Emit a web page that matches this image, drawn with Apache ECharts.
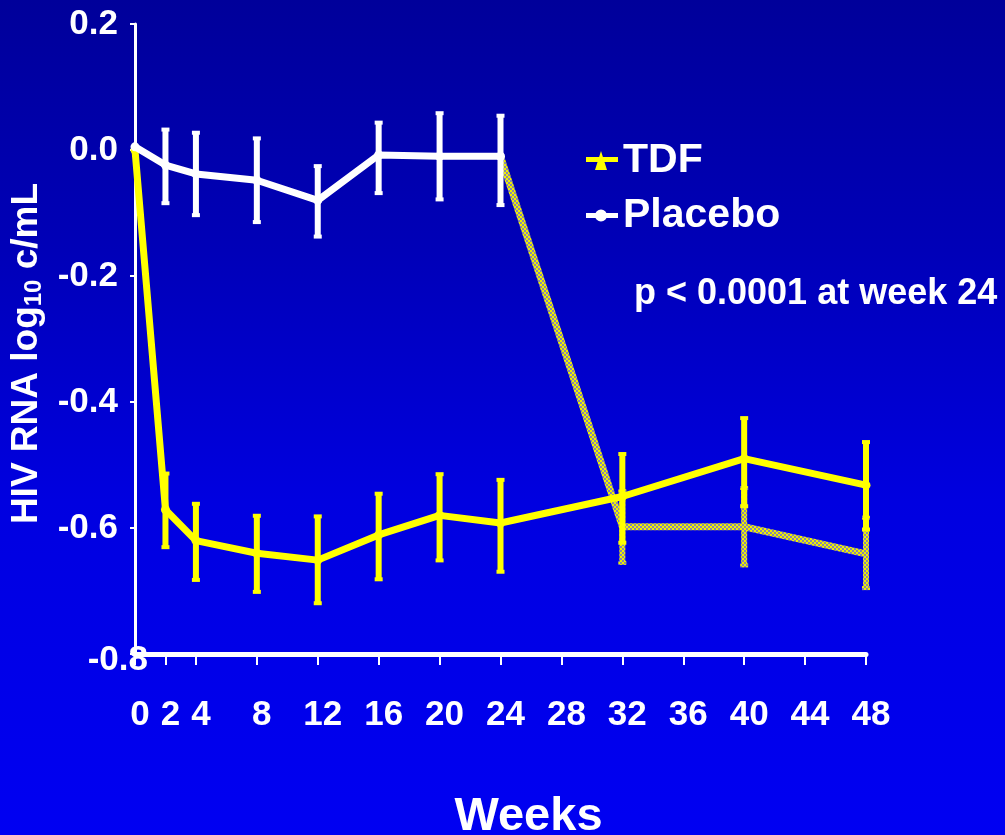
<!DOCTYPE html>
<html><head><meta charset="utf-8">
<script src="https://cdn.jsdelivr.net/npm/echarts@6/dist/echarts.min.js"></script>
<style>html,body{margin:0;padding:0;background:#0000c0}#c{width:1005px;height:835px}</style>
</head><body><div id="c"></div>
<script>
// ---- data ----
const weeks = [0, 2, 4, 8, 12, 16, 20, 24, 32, 40, 48];
const tdfMean = [0.0, -0.571, -0.620, -0.640, -0.651, -0.611, -0.580, -0.592, -0.550, -0.490, -0.532];
const tdfLow  = [null, -0.632, -0.684, -0.703, -0.721, -0.683, -0.653, -0.671, -0.625, -0.567, -0.604];
const tdfHigh = [null, -0.512, -0.560, -0.579, -0.580, -0.544, -0.513, -0.522, -0.481, -0.424, -0.462];
const placeboWeeks = [0, 2, 4, 8, 12, 16, 20, 24];
const placeboMean = [0.005, -0.024, -0.038, -0.048, -0.080, -0.008, -0.010, -0.010];
const placeboLow  = [null, -0.086, -0.105, -0.116, -0.139, -0.070, -0.080, -0.089];
const placeboHigh = [null, 0.034, 0.029, 0.020, -0.024, 0.045, 0.060, 0.056];
const crossWeeks = [24, 32, 40, 48];
const crossMean = [-0.010, -0.598, -0.598, -0.641];
const crossLow  = [null, -0.657, -0.661, -0.697];
const crossHigh = [null, -0.540, -0.535, -0.582];
const xTickLabels = [0, 2, 4, 8, 12, 16, 20, 24, 28, 32, 36, 40, 44, 48];
const yTickLabels = [-0.8, -0.6, -0.4, -0.2, 0.0, 0.2];

// ---- helpers ----
const pts = (xs, ys) => xs.map((x, i) => [x, ys[i]]);
const bars = (xs, lo, hi) => xs.map((x, i) => [x, lo[i], hi[i]]).filter(d => d[1] != null);

const pc = document.createElement('canvas');
pc.width = 4; pc.height = 4;
const g = pc.getContext('2d');
g.fillStyle = '#8a8aa6'; g.fillRect(0, 0, 4, 4);
g.fillStyle = '#f0f000'; g.fillRect(0, 0, 2, 2); g.fillRect(2, 2, 2, 2);
const hatch = { image: pc, repeat: 'repeat' };

function errorSeries(data, color, z) {
  return {
    type: 'custom', data: data, z: z, silent: true,
    encode: { x: 0, y: [1, 2] },
    renderItem: function (params, api) {
      const x = api.value(0);
      const a = api.coord([x, api.value(1)]);
      const b = api.coord([x, api.value(2)]);
      return {
        type: 'group', children: [
          { type: 'line', shape: { x1: a[0], y1: a[1], x2: b[0], y2: b[1] }, style: { stroke: color, lineWidth: 6 } },
          { type: 'rect', shape: { x: a[0] - 4, y: a[1] - 3, width: 8, height: 4 }, style: { fill: color } },
          { type: 'rect', shape: { x: b[0] - 4, y: b[1] - 1, width: 8, height: 4 }, style: { fill: color } }
        ]
      };
    }
  };
}

const font = '"Liberation Sans", Arial, sans-serif';
const chart = echarts.init(document.getElementById('c'), null, { renderer: 'canvas' });
chart.setOption({
  animation: false,
  backgroundColor: {
    type: 'linear', x: 0, y: 0, x2: 0, y2: 1,
    colorStops: [
      { offset: 0, color: '#00009a' },
      { offset: 0.3, color: '#0000b8' },
      { offset: 0.6, color: '#0000e0' },
      { offset: 1, color: '#0000f2' }
    ]
  },
  grid: { left: 135, right: 139, top: 24, bottom: 181, containLabel: false, outerBoundsMode: 'none' },
  title: {
    text: 'p < 0.0001 at week 24', left: 629, top: 271,
    textStyle: { color: '#fff', fontFamily: font, fontWeight: 'bold', fontSize: 36 }
  },
  legend: {
    orient: 'vertical', left: 581, top: 135,
    itemWidth: 32, itemHeight: 19, itemGap: 14, itemTextGap: 6,
    textStyle: { color: '#fff', fontFamily: font, fontWeight: 'bold', fontSize: 41, lineHeight: 41 },
    data: [
      { name: 'TDF', icon: 'path://M0,6L32,6L32,11L0,11Z M15,0L21,19L9,19Z' },
      { name: 'Placebo', icon: 'path://M0,7L32,7L32,12L0,12Z M21,9.5A6,6 0 1 1 9,9.5A6,6 0 1 1 21,9.5Z' }
    ]
  },
  xAxis: {
    type: 'value', min: 0, max: 48,
    name: 'Weeks', nameLocation: 'middle', nameGap: 140,
    nameTextStyle: { color: '#fff', fontFamily: font, fontWeight: 'bold', fontSize: 47, padding: [0, 0, 0, 56] },
    splitLine: { show: false },
    axisLine: { show: true, onZero: false, lineStyle: { color: '#fff', width: 5 } },
    axisTick: { show: true, customValues: xTickLabels, length: 11, lineStyle: { color: '#fff', width: 2 } },
    axisLabel: {
      customValues: xTickLabels, margin: 44,
      color: '#fff', fontFamily: font, fontWeight: 'bold', fontSize: 35, padding: [0, 0, 0, 10]
    }
  },
  yAxis: {
    type: 'value', min: -0.8, max: 0.2, interval: 0.2,
    name: '{a|HIV RNA log}{s|10}{a| c/mL}', nameLocation: 'middle', nameGap: 88, nameRotate: 90,
    nameTextStyle: {
      color: '#fff', fontFamily: font, fontWeight: 'bold', fontSize: 37, padding: [0, 29, 0, 0],
      rich: {
        a: { color: '#fff', fontFamily: font, fontWeight: 'bold', fontSize: 37 },
        s: { color: '#fff', fontFamily: font, fontWeight: 'bold', fontSize: 24, padding: [16, 0, 0, 0] }
      }
    },
    splitLine: { show: false },
    axisLine: { show: true, lineStyle: { color: '#fff', width: 3 } },
    axisTick: { show: true, customValues: yTickLabels, length: 5, lineStyle: { color: '#fff', width: 2 } },
    axisLabel: {
      customValues: yTickLabels, margin: 17,
      color: '#fff', fontFamily: font, fontWeight: 'bold', fontSize: 35,
      formatter: v => {
        const s = (Math.abs(v) < 1e-9 ? 0 : v).toFixed(1);
        return Math.abs(v + 0.8) < 1e-9 ? '{e|' + s + '}' : s;
      },
      rich: { e: { color: '#fff', fontFamily: font, fontWeight: 'bold', fontSize: 35, padding: [12, -30, 0, 0] } }
    }
  },
  series: [
    {
      name: 'cross', type: 'line', data: pts(crossWeeks, crossMean), z: 2,
      symbol: 'none', lineStyle: { color: hatch, width: 7 }, itemStyle: { color: '#c8c870' }
    },
    errorSeries(bars(crossWeeks, crossLow, crossHigh), hatch, 2),
    {
      name: 'TDF', type: 'line', data: pts(weeks, tdfMean), z: 4,
      symbol: 'circle', symbolSize: 9, lineStyle: { color: '#ffff00', width: 7 }, itemStyle: { color: '#ffff00' }
    },
    errorSeries(bars(weeks, tdfLow, tdfHigh), '#ffff00', 4),
    {
      name: 'Placebo', type: 'line', data: pts(placeboWeeks, placeboMean), z: 5,
      symbol: 'circle', symbolSize: 9, lineStyle: { color: '#ffffff', width: 7 }, itemStyle: { color: '#ffffff' }
    },
    errorSeries(bars(placeboWeeks, placeboLow, placeboHigh), '#ffffff', 5)
  ]
});
</script>
</body></html>
